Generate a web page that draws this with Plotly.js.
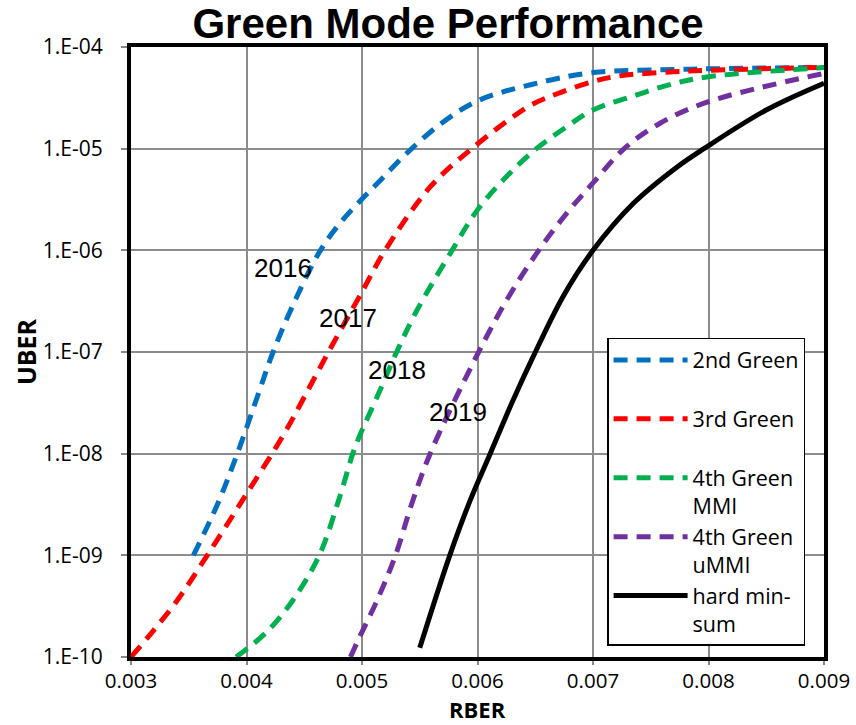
<!DOCTYPE html>
<html>
<head>
<meta charset="utf-8">
<script src="https://cdn.plot.ly/plotly-3.0.1.min.js"></script>
<style>html,body{margin:0;padding:0;background:#fff;}#chart{width:856px;height:725px;}</style>
</head>
<body>
<div id="chart"></div>
<script>
// ---- data ----
var seriesNames = ["2nd Green", "3rd Green", "4th Green<br>MMI", "4th Green<br>uMMI", "hard min-<br>sum"];

var rber2nd = [0.00354, 0.00375, 0.00392, 0.0041, 0.00423, 0.00442, 0.00464, 0.00481, 0.005, 0.00516, 0.0054, 0.0057, 0.006, 0.00645, 0.007, 0.00772, 0.008, 0.009];
var uber2nd = [1.0e-9, 3.2e-9, 1.0e-8, 3.8e-8, 1.0e-7, 3.2e-7, 1.0e-6, 1.85e-6, 3.2e-6, 4.9e-6, 9.3e-6, 1.82e-5, 2.95e-5, 4.23e-5, 5.6e-5, 6.0e-5, 6.1e-5, 6.3e-5];

var rber3rd = [0.003, 0.00318, 0.0034, 0.00366, 0.00397, 0.00432, 0.00455, 0.00471, 0.005, 0.0052, 0.00559, 0.00595, 0.00645, 0.00669, 0.007, 0.00723, 0.0077, 0.008, 0.009];
var uber3rd = [1.0e-10, 1.74e-10, 3.6e-10, 1.0e-9, 3.55e-9, 1.53e-8, 4.6e-8, 1.0e-7, 3.9e-7, 1.0e-6, 4.2e-6, 1.0e-5, 2.63e-5, 3.47e-5, 4.57e-5, 5.2e-5, 5.7e-5, 5.9e-5, 6.3e-5];

var rber4thMMI = [0.00391, 0.00417, 0.0044, 0.00463, 0.0048, 0.00492, 0.00497, 0.00516, 0.0053, 0.00547, 0.00578, 0.006, 0.00625, 0.00651, 0.00675, 0.007, 0.00735, 0.0077, 0.008, 0.009];
var uber4thMMI = [1.0e-10, 1.74e-10, 3.6e-10, 1.0e-9, 3.55e-9, 1.0e-8, 1.41e-8, 4.3e-8, 1.0e-7, 2.5e-7, 1.0e-6, 2.5e-6, 5.3e-6, 1.0e-5, 1.58e-5, 2.4e-5, 3.3e-5, 4.37e-5, 5.1e-5, 6.27e-5];

var rber4thUMMI = [0.0049, 0.00498, 0.00513, 0.00529, 0.00543, 0.00559, 0.00601, 0.00627, 0.00653, 0.00677, 0.007, 0.00727, 0.00758, 0.008, 0.009];
var uber4thUMMI = [1.0e-10, 1.58e-10, 3.6e-10, 1.0e-9, 3.2e-9, 1.0e-8, 1.0e-7, 3.5e-7, 1.0e-6, 2.3e-6, 4.6e-6, 1.0e-5, 1.78e-5, 2.9e-5, 5.5e-5];

var rberHard = [0.0055, 0.00576, 0.00594, 0.00611, 0.0063, 0.00648, 0.00674, 0.007, 0.00735, 0.00772, 0.00796, 0.0085, 0.009];
var uberHard = [1.23e-10, 1.0e-9, 3.55e-9, 1.0e-8, 3.2e-8, 8.9e-8, 3.5e-7, 1.0e-6, 2.9e-6, 6.5e-6, 1.0e-5, 2.4e-5, 4.4e-5];

var xTickVals = [0.003, 0.004, 0.005, 0.006, 0.007, 0.008, 0.009];
var xTickText = ["0.003", "0.004", "0.005", "0.006", "0.007", "0.008", "0.009"];
var yTickVals = [1e-10, 1e-9, 1e-8, 1e-7, 1e-6, 1e-5, 1e-4];
var yTickText = ["1.E-10", "1.E-09", "1.E-08", "1.E-07", "1.E-06", "1.E-05", "1.E-04"];

var yearLabels = ["2016", "2017", "2018", "2019"];
var yearX = [0.004312, 0.004879, 0.005307, 0.005831];
var yearY = [6.7e-7, 2.16e-7, 6.65e-8, 2.57e-8];

var xTitle = "RBER";
var yTitle = "UBER";

// ---- styling ----
var colors = ["#0070C0", "#FF0000", "#00B050", "#7030A0", "#000000"];
var NB = "\u00a0";
var xs = [rber2nd, rber3rd, rber4thMMI, rber4thUMMI, rberHard];
var ys = [uber2nd, uber3rd, uber4thMMI, uber4thUMMI, uberHard];
var legendNames = [seriesNames[0] + "<br>" + NB, seriesNames[1] + "<br>" + NB, seriesNames[2], seriesNames[3], seriesNames[4]];

var traces = xs.map(function (x, i) {
  return {
    x: x, y: ys[i], type: "scatter", mode: "lines",
    name: legendNames[i],
    line: {color: colors[i], width: 5, dash: i < 4 ? "14px,9px" : "solid", shape: "spline", smoothing: 1}
  };
});

var tickFont = {family: "Open Sans, sans-serif", size: 21, color: "#000"};
var xTickFont = {family: "Open Sans, sans-serif", size: 20.5, color: "#000"};

var annotations = yearLabels.map(function (t, i) {
  return {
    text: t, x: yearX[i], y: Math.log10(yearY[i]), xref: "x", yref: "y",
    showarrow: false, xanchor: "center", yanchor: "middle",
    font: {family: "Liberation Sans, Arial, sans-serif", size: 26, color: "#000"}
  };
});
// x-axis title placed at the very bottom of the page, under the tick labels
annotations.push({
  text: "<b>" + xTitle + "</b>", xref: "paper", yref: "paper", x: 0.5, y: -68 / 610,
  xanchor: "center", yanchor: "bottom", showarrow: false, borderpad: 0,
  font: {family: "Open Sans, sans-serif", size: 22, color: "#000"}
});

var layout = {
  width: 856, height: 725,
  margin: {l: 131, r: 32, t: 47, b: 68, pad: 0},
  paper_bgcolor: "#fff", plot_bgcolor: "#fff",
  showlegend: true,
  title: {
    text: "<b>Green Mode Performance</b>",
    font: {family: "Liberation Sans, Arial, sans-serif", size: 42, color: "#000"},
    xref: "container", yref: "container", x: 0.5234, xanchor: "center", y: 0.968, yanchor: "middle"
  },
  xaxis: {
    type: "linear", range: [0.003, 0.009],
    tickvals: xTickVals, ticktext: xTickText, tickfont: xTickFont,
    ticks: "outside", ticklen: 4, tickwidth: 2, tickcolor: "#888", ticklabelstandoff: -2,
    showgrid: true, gridcolor: "#8c8c8c", gridwidth: 2,
    showline: true, linecolor: "#000", linewidth: 4, mirror: true,
    zeroline: false
  },
  yaxis: {
    type: "log", range: [-10, -4],
    tickvals: yTickVals, ticktext: yTickText, tickfont: tickFont,
    ticks: "outside", ticklen: 6, tickwidth: 2, tickcolor: "#888", ticklabelstandoff: 14,
    showgrid: true, gridcolor: "#8c8c8c", gridwidth: 2,
    showline: true, linecolor: "#000", linewidth: 4, mirror: true,
    zeroline: false,
    title: {text: "<b>" + yTitle + "</b>", font: {family: "Open Sans, sans-serif", size: 25, color: "#000"}, standoff: 0}
  },
  legend: {
    x: 0.687, y: 0.523, xanchor: "left", yanchor: "top",
    bgcolor: "#fff", bordercolor: "#000", borderwidth: 1.5,
    font: {family: "Open Sans, sans-serif", size: 21.5, color: "#000"},
    itemwidth: 74, valign: "top", tracegroupgap: 0
  },
  annotations: annotations
};

Plotly.newPlot("chart", traces, layout, {staticPlot: true, displayModeBar: false});
</script>
</body>
</html>
